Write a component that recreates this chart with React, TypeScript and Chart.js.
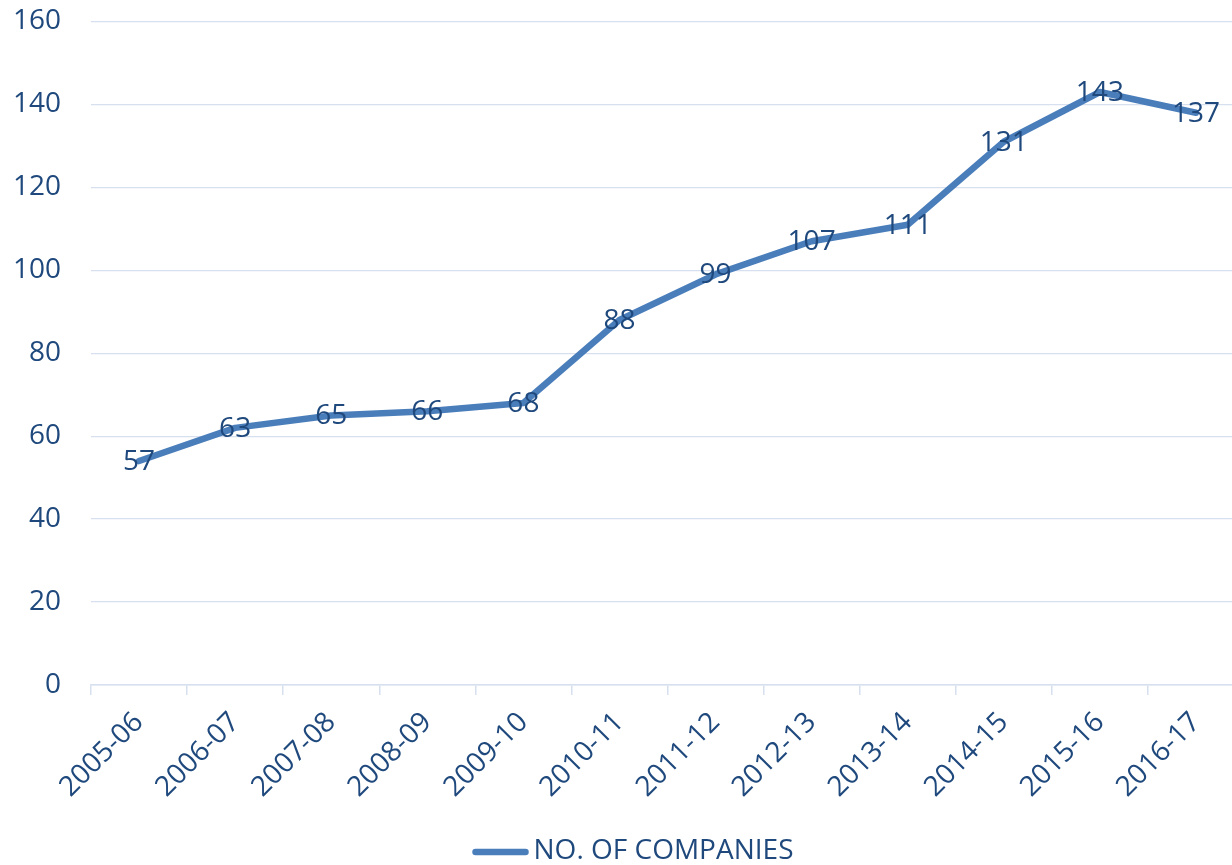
import React, { useEffect, useRef } from "react";
import { Chart, registerables } from "chart.js";

Chart.register(...registerables);

const categories = [
  "2005-06", "2006-07", "2007-08", "2008-09", "2009-10", "2010-11",
  "2011-12", "2012-13", "2013-14", "2014-15", "2015-16", "2016-17",
];
const lineValues = [54, 62, 65, 66, 68, 88, 99, 107, 111, 131, 143, 138];
const pointLabels = ["57", "63", "65", "66", "68", "88", "99", "107", "111", "131", "143", "137"];
const yTickValues = [0, 20, 40, 60, 80, 100, 120, 140, 160];
const seriesName = "NO. OF COMPANIES";

const FONT = "'Open Sans', 'Noto Sans', sans-serif";
const FSIZE = 28;
const TEXT = "#1F497D";
const LINE = "#4A7EBB";
const GRID = "#D6E0EF";

const pointLabelPlugin = {
  id: "pointLabelPlugin",
  afterDatasetsDraw(chart: any) {
    const meta = chart.getDatasetMeta(0);
    const ctx = chart.ctx;
    ctx.save();
    ctx.font = `${FSIZE}px ${FONT}`;
    ctx.fillStyle = TEXT;
    ctx.textAlign = "center";
    ctx.textBaseline = "middle";
    meta.data.forEach((pt: any, i: number) => {
      ctx.fillText(pointLabels[i], pt.x, pt.y + 1);
    });
    ctx.restore();
  },
};

// Legend drawn as a line sample plus the dataset label, centred under the chart
const lineLegendPlugin = {
  id: "lineLegendPlugin",
  afterDraw(chart: any) {
    const ds = chart.data.datasets[0];
    const ctx = chart.ctx;
    ctx.save();
    ctx.font = `${FSIZE}px ${FONT}`;
    const textW = ctx.measureText(ds.label).width;
    const sample = 50;
    const gap = 8;
    const total = sample + gap + textW;
    const x0 = chart.width / 2 - total / 2;
    const y = chart.height - 13;
    ctx.strokeStyle = ds.borderColor;
    ctx.lineWidth = ds.borderWidth;
    ctx.lineCap = "round";
    ctx.beginPath();
    ctx.moveTo(x0, y);
    ctx.lineTo(x0 + sample, y);
    ctx.stroke();
    ctx.fillStyle = TEXT;
    ctx.textAlign = "left";
    ctx.textBaseline = "middle";
    ctx.fillText(ds.label, x0 + sample + gap, y - 1);
    ctx.restore();
  },
};

export default function App() {
  const ref = useRef<HTMLCanvasElement | null>(null);
  useEffect(() => {
    if (!ref.current) return;
    const chart = new Chart(ref.current, {
      type: "line",
      data: {
        labels: categories,
        datasets: [
          {
            label: seriesName,
            data: lineValues,
            borderColor: LINE,
            backgroundColor: LINE,
            borderWidth: 6.5,
            borderCapStyle: "round",
            borderJoinStyle: "round",
            pointRadius: 0,
            pointHoverRadius: 0,
            tension: 0,
          },
        ],
      },
      options: {
        responsive: false,
        animation: false,
        layout: { padding: { left: 0, right: 25, top: 21.5, bottom: 50 } },
        plugins: {
          tooltip: { enabled: false },
          legend: { display: false },
        },
        scales: {
          x: {
            offset: true,
            grid: {
              offset: true,
              drawOnChartArea: false,
              drawTicks: true,
              tickLength: 10,
              color: GRID,
              lineWidth: 1.5,
            },
            border: { display: true, color: GRID, width: 1.5 },
            ticks: {
              color: TEXT,
              font: { family: FONT, size: FSIZE },
              maxRotation: 45,
              minRotation: 45,
              autoSkip: false,
              padding: 11,
            },
          },
          y: {
            min: 0,
            max: 160,
            afterBuildTicks(scale: any) {
              scale.ticks = yTickValues.map((v) => ({ value: v }));
            },
            afterFit(scale: any) {
              scale.width = 91;
            },
            grid: {
              drawTicks: true,
              tickLength: 30,
              tickColor: "rgba(0,0,0,0)",
              color: GRID,
              lineWidth: 1.3,
            },
            border: { display: false },
            ticks: {
              color: TEXT,
              font: { family: FONT, size: FSIZE },
              padding: 0,
            },
          },
        },
      },
      plugins: [pointLabelPlugin, lineLegendPlugin],
    });
    return () => chart.destroy();
  }, []);

  return (
    <div
      style={{
        position: "fixed",
        left: 0,
        top: 0,
        width: 1232,
        height: 865,
        overflow: "hidden",
        background: "#fff",
      }}
    >
      <canvas ref={ref} width={1269} height={865} style={{ display: "block" }} />
    </div>
  );
}
